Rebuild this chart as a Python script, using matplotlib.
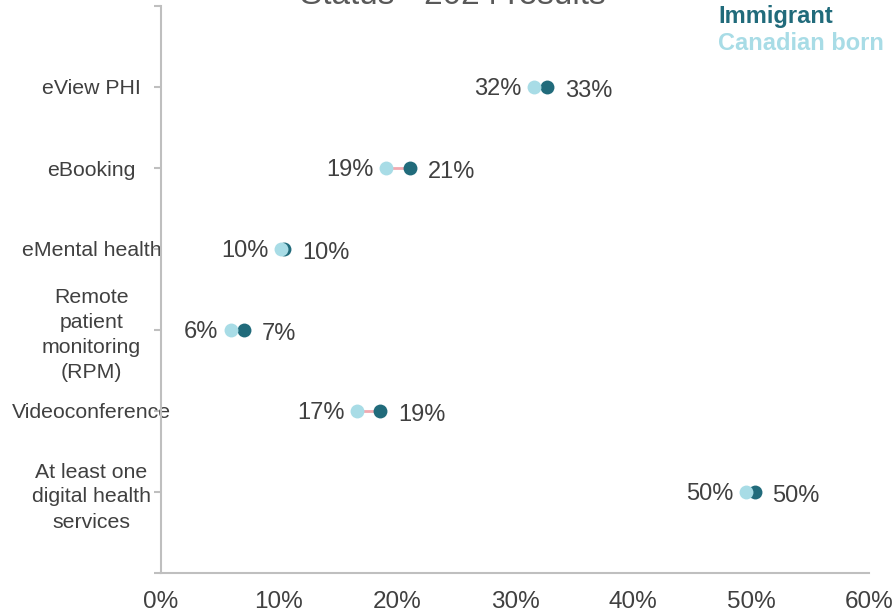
import matplotlib.pyplot as plt

plt.rcParams['font.family'] = ['Liberation Sans', 'DejaVu Sans']

# survey categories, top to bottom
services = ['eView PHI', 'eBooking', 'eMental health',
            'Remote\npatient\nmonitoring\n(RPM)', 'Videoconference',
            'At least one\ndigital health\nservices']
immigrant = [32.7, 21.1, 10.4, 7.0, 18.6, 50.3]
canadian_born = [31.6, 19.1, 10.2, 5.9, 16.6, 49.6]
xticks = [0, 10, 20, 30, 40, 50, 60]

dark = '#216b7b'
light = '#a8dce6'
pink = '#f2a9b0'
grey_txt = '#404040'
spine = '#bfbfbf'

fig = plt.figure(figsize=(8.94, 6.14), dpi=100)
ax = fig.add_axes([161/894, 1-573/614, (869-161)/894, (573-6)/614])

ypos = list(range(1, len(services)+1))

for y, a, b in zip(ypos, immigrant, canadian_born):
    ax.plot([b, a], [y, y], color=pink, lw=2, zorder=1)
ax.plot(immigrant, ypos, 'o', color=dark, ms=10, mec='none', zorder=2)
ax.plot(canadian_born, ypos, 'o', color=light, ms=10, mec='none', zorder=3)

for y, a, b in zip(ypos, immigrant, canadian_born):
    ax.annotate(f'{b:.0f}%', (b, y), xytext=(-9, -1.5), textcoords='offset points',
                ha='right', va='center', fontsize=17, color=grey_txt)
    ax.annotate(f'{a:.0f}%', (a, y), xytext=(13, -3), textcoords='offset points',
                ha='left', va='center', fontsize=17, color=grey_txt)

ax.set_xlim(0, 60)
ax.set_ylim(len(services)+1, 0)
ax.set_xticks(xticks)
ax.set_xticklabels([f'{t}%' for t in xticks], fontsize=17.5, color=grey_txt)
ax.tick_params(axis='x', length=0, pad=13)

ax.set_yticks(range(0, len(services)+2))
ax.set_yticklabels([''] + services + [''], fontsize=15.3, color=grey_txt,
                   ha='center', linespacing=1.4)
ax.tick_params(axis='y', length=5, width=1.5, color=spine, pad=45)

for s in ['top', 'right']:
    ax.spines[s].set_visible(False)
for s in ['left', 'bottom']:
    ax.spines[s].set_color(spine)
    ax.spines[s].set_linewidth(1.5)

fig.text(453/894, 1-4/614, 'Status - 2024 results', ha='center', va='baseline',
         fontsize=24, color='#595959')
fig.text(718/894, 1-16/614, 'Immigrant', ha='left', va='center',
         fontsize=17, fontweight='bold', color=dark)
fig.text(718/894, 1-43/614, 'Canadian born', ha='left', va='center',
         fontsize=17, fontweight='bold', color=light)

fig.savefig('out.png', dpi=100)
